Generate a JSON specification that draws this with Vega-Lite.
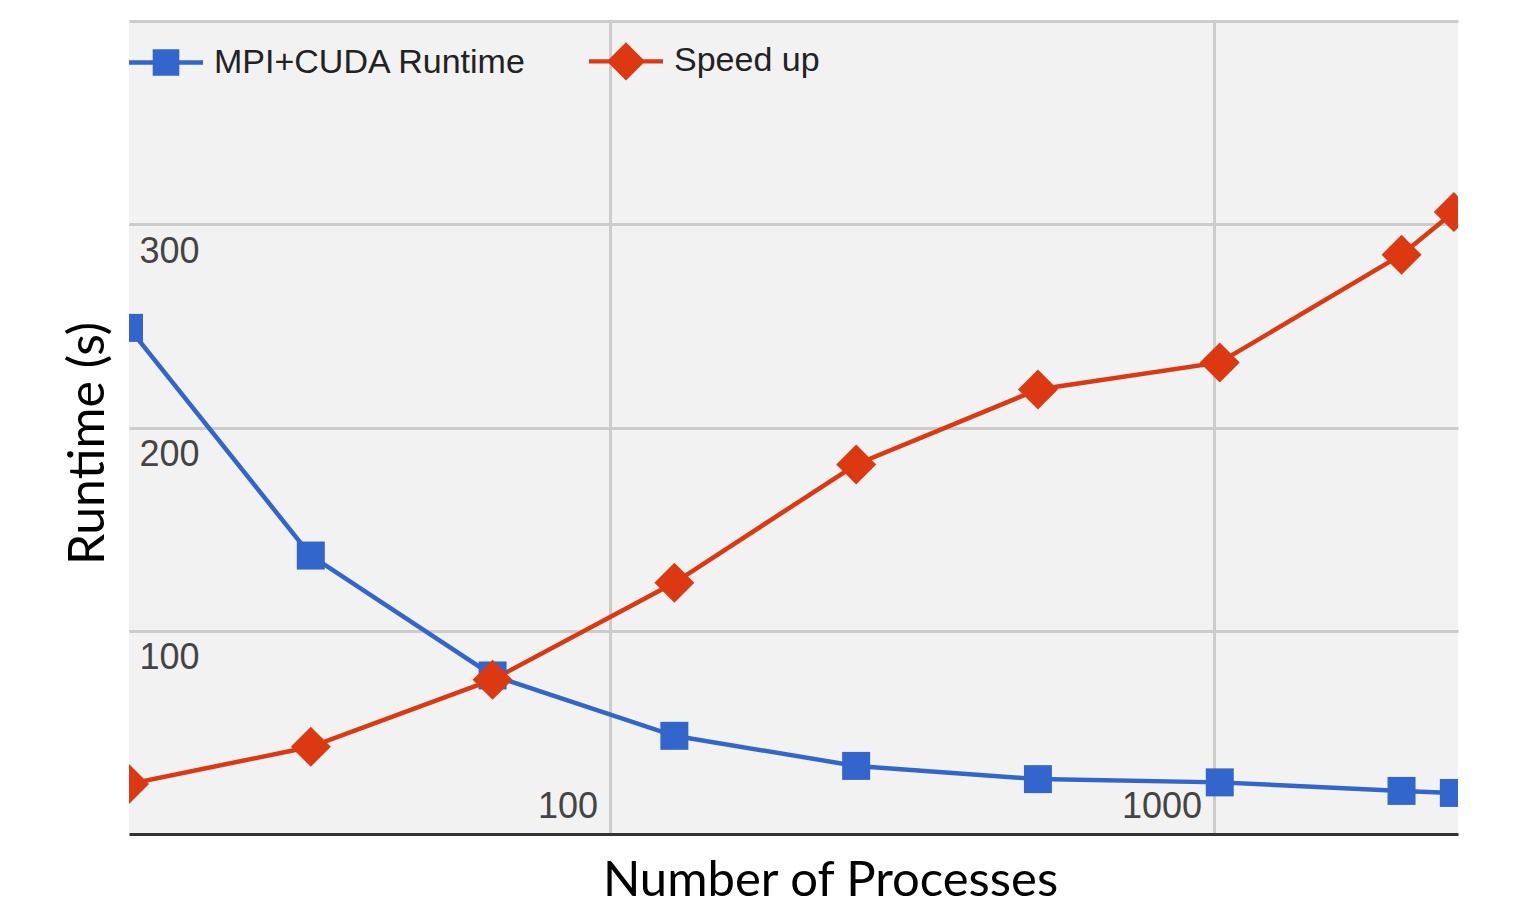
{
  "$schema": "https://vega.github.io/schema/vega-lite/v6.json",
  "autosize": "none",
  "width": 1329,
  "height": 813,
  "padding": {"left": 129, "top": 21, "right": 61, "bottom": 75},
  "background": "white",
  "config": {
    "view": {"fill": "#f2f2f2", "stroke": null},
    "axis": {"labelFont": "Liberation Sans", "titleFont": "Lato", "titleFontWeight": "normal", "titleColor": "black"}
  },
  "data": {
    "values": [
      {"procs": 16, "value": 249, "series": "MPI+CUDA Runtime"},
      {"procs": 32, "value": 137, "series": "MPI+CUDA Runtime"},
      {"procs": 64, "value": 78, "series": "MPI+CUDA Runtime"},
      {"procs": 128, "value": 48.3, "series": "MPI+CUDA Runtime"},
      {"procs": 256, "value": 33.5, "series": "MPI+CUDA Runtime"},
      {"procs": 512, "value": 27, "series": "MPI+CUDA Runtime"},
      {"procs": 1024, "value": 25.4, "series": "MPI+CUDA Runtime"},
      {"procs": 2048, "value": 21.2, "series": "MPI+CUDA Runtime"},
      {"procs": 2500, "value": 20.2, "series": "MPI+CUDA Runtime"},
      {"procs": 16, "value": 24.6, "series": "Speed up"},
      {"procs": 32, "value": 42.9, "series": "Speed up"},
      {"procs": 64, "value": 75.9, "series": "Speed up"},
      {"procs": 128, "value": 123.6, "series": "Speed up"},
      {"procs": 256, "value": 181.8, "series": "Speed up"},
      {"procs": 512, "value": 218.7, "series": "Speed up"},
      {"procs": 1024, "value": 232, "series": "Speed up"},
      {"procs": 2048, "value": 285, "series": "Speed up"},
      {"procs": 2500, "value": 306, "series": "Speed up"}
    ]
  },
  "encoding": {
    "x": {
      "field": "procs",
      "type": "quantitative",
      "scale": {"type": "log", "domain": [16, 2540], "nice": false},
      "axis": {
        "values": [100, 1000],
        "format": "d",
        "grid": true,
        "gridColor": "#cccccc",
        "gridWidth": 3,
        "domain": true,
        "domainColor": "#333333",
        "domainWidth": 3,
        "ticks": false,
        "labelPadding": -17,
        "labelBaseline": "alphabetic",
        "labelAlign": "right",
        "labelOffset": -12,
        "labelFlush": false,
        "labelFontSize": 36,
        "labelColor": "#444444",
        "title": "Number of Processes",
        "titleFontSize": 49,
        "titleX": 701,
        "titleY": 61,
        "titleAlign": "center",
        "titleBaseline": "alphabetic"
      }
    },
    "y": {
      "field": "value",
      "type": "quantitative",
      "scale": {"domain": [0, 400], "nice": false},
      "axis": {
        "values": [100, 200, 300, 400],
        "labelExpr": "datum.value == 400 ? '' : datum.label",
        "grid": true,
        "gridColor": "#cccccc",
        "gridWidth": 3,
        "domain": false,
        "ticks": false,
        "labelPadding": -10,
        "labelAlign": "left",
        "labelBaseline": "top",
        "labelOffset": 10,
        "labelFontSize": 36,
        "labelColor": "#444444",
        "title": "Runtime (s)",
        "titleFontSize": 50,
        "titleAngle": 270,
        "titleX": -26,
        "titleY": 422,
        "titleAlign": "center",
        "titleBaseline": "alphabetic"
      }
    },
    "color": {
      "field": "series",
      "type": "nominal",
      "scale": {"domain": ["MPI+CUDA Runtime", "Speed up"], "range": ["#3366cc", "#dc3912"]},
      "legend": {
        "title": null,
        "orient": "none",
        "direction": "horizontal",
        "legendX": 0,
        "legendY": 3,
        "padding": 0,
        "symbolSize": 5476,
        "symbolStrokeWidth": 0,
        "labelFont": "Liberation Sans",
        "labelFontSize": 34,
        "labelColor": "#222222",
        "labelOffset": 11,
        "columnPadding": 62,
        "labelLimit": 500,
        "encode": {
          "symbols": {
            "enter": {
              "shape": {"signal": "datum.value === 'Speed up' ? 'M-1,-0.06H-0.46L0,-0.52L0.46,-0.06H1V0.06H0.46L0,0.52L-0.46,0.06H-1Z' : 'M-1,-0.06H-0.36V-0.36H0.36V-0.06H1V0.06H0.36V0.36H-0.36V0.06H-1Z'"}
            },
            "update": {
              "shape": {"signal": "datum.value === 'Speed up' ? 'M-1,-0.06H-0.46L0,-0.52L0.46,-0.06H1V0.06H0.46L0,0.52L-0.46,0.06H-1Z' : 'M-1,-0.06H-0.36V-0.36H0.36V-0.06H1V0.06H0.36V0.36H-0.36V0.06H-1Z'"},
              "fill": {"signal": "datum.value === 'Speed up' ? '#dc3912' : '#3366cc'"},
              "fillOpacity": {"value": 1},
              "opacity": {"value": 1},
              "strokeWidth": {"value": 0}
            }
          }
        }
      }
    }
  },
  "layer": [
    {"mark": {"type": "line", "strokeWidth": 4.5, "clip": true}},
    {
      "transform": [{"filter": "datum.series === 'MPI+CUDA Runtime'"}],
      "mark": {"type": "point", "shape": "square", "filled": true, "opacity": 1, "size": 784, "clip": true}
    },
    {
      "transform": [{"filter": "datum.series === 'Speed up'"}],
      "mark": {"type": "point", "shape": "diamond", "filled": true, "opacity": 1, "size": 1600, "clip": true}
    }
  ]
}
